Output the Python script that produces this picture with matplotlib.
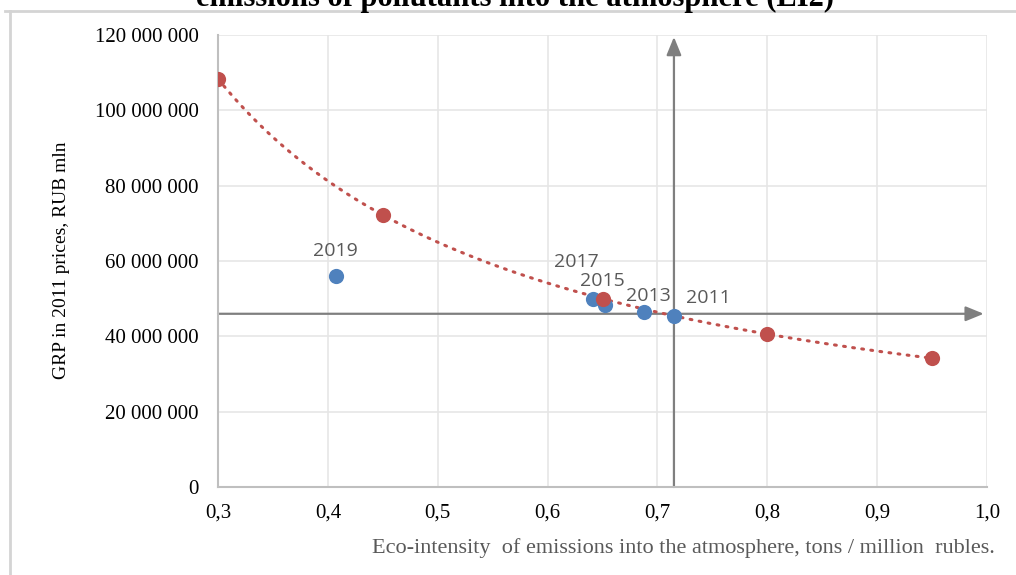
"""GRP vs eco-intensity of atmospheric emissions (EI2) scatter with trend."""

import matplotlib

matplotlib.use("Agg")
import matplotlib.pyplot as plt
import numpy as np
from matplotlib.lines import Line2D
from matplotlib.ticker import FuncFormatter

# model points (red) on the trend curve
MODEL_X = [0.30, 0.45, 0.65, 0.80, 0.95]
MODEL_Y = [108.4e6, 72.2e6, 50.0e6, 40.6e6, 34.2e6]

# actual observations (blue)
YEARS = ["2019", "2017", "2015", "2013", "2011"]
OBS_X = [0.407, 0.641, 0.652, 0.688, 0.715]
OBS_Y = [56.1e6, 50.0e6, 48.2e6, 46.6e6, 45.5e6]

# 2011 reference lines (arrows)
REF_X = 0.715
REF_Y = 46.0e6

RED = "#C0504D"
BLUE = "#4F81BD"
ARROW = "#7F7F7F"
SERIF = ["Liberation Serif", "DejaVu Serif"]

fig = plt.figure(figsize=(10.16, 5.75), dpi=100)
ax = fig.add_axes([0.2146, 0.153, 0.7569, 0.786])

# power trend fitted to the model points
b, log_a = np.polyfit(np.log(MODEL_X), np.log(MODEL_Y), 1)
xs = np.linspace(min(MODEL_X), max(MODEL_X), 200)
ax.plot(xs, np.exp(log_a) * xs**b, color=RED, linewidth=2.2,
        linestyle=(0, (0.6, 2.4)), dash_capstyle="round", zorder=3)

ax.scatter(MODEL_X, MODEL_Y, s=120, color=RED, zorder=5, linewidths=0)
ax.scatter(OBS_X, OBS_Y, s=120, color=BLUE, zorder=4, linewidths=0)

label_offsets = {"2019": (0, 11), "2017": (-12, 20), "2015": (-2, 11),
                 "2013": (3, 5), "2011": (25, 6)}
for year, x, y in zip(YEARS, OBS_X, OBS_Y):
    dx, dy = label_offsets[year]
    ax.annotate(year, (x, y), xytext=(dx, dy), textcoords="offset points",
                ha="center", va="bottom", fontsize=14, color="#595959",
                family=["Open Sans", "DejaVu Sans"], zorder=6)

# arrows through the 2011 point
ax.annotate("", xy=(0.997, REF_Y), xytext=(0.3, REF_Y),
            arrowprops=dict(arrowstyle="-|>,head_length=1.1,head_width=0.45",
                            color=ARROW, linewidth=1.6, shrinkA=0, shrinkB=0),
            zorder=2)
ax.annotate("", xy=(REF_X, 119.5e6), xytext=(REF_X, 0),
            arrowprops=dict(arrowstyle="-|>,head_length=1.1,head_width=0.45",
                            color=ARROW, linewidth=1.6, shrinkA=0, shrinkB=0),
            zorder=2)

ax.set_xlim(0.3, 1.0)
ax.set_ylim(0, 120e6)
ax.set_xticks(np.arange(0.3, 1.01, 0.1))
ax.set_yticks(np.arange(0, 120.1e6, 20e6))
ax.xaxis.set_major_formatter(FuncFormatter(lambda v, _: f"{v:.1f}".replace(".", ",")))
ax.yaxis.set_major_formatter(FuncFormatter(lambda v, _: f"{v:,.0f}".replace(",", " ")))
ax.tick_params(length=0, labelsize=15, pad=14)
ax.tick_params(axis="x", pad=12)
for lab in ax.get_xticklabels() + ax.get_yticklabels():
    lab.set_family(SERIF)

ax.grid(True, color="#E6E6E6", linewidth=1.2)
ax.set_axisbelow(True)
for side in ("top", "right"):
    ax.spines[side].set_visible(False)
for side in ("left", "bottom"):
    ax.spines[side].set_color("#BFBFBF")
    ax.spines[side].set_linewidth(1.5)

fig.text(0.061, 0.548, "GRP in 2011 prices, RUB mln", rotation=90,
         ha="center", va="center", fontsize=14, family=SERIF)
fig.text(0.979, 0.047, "Eco-intensity  of emissions into the atmosphere, tons / million  rubles.",
         ha="right", va="center", fontsize=16, color="#595959", family=SERIF)

# title cut at the top edge, plus the page frame
fig.text(0.507, 1 - 6 / 575, "emissions of pollutants into the atmosphere (EI2)",
         ha="center", va="baseline", fontsize=22, fontweight="bold", family=SERIF)
fig.add_artist(Line2D([0.005, 1.0], [1 - 11 / 575, 1 - 11 / 575],
                      color="#D4D4D4", linewidth=2, transform=fig.transFigure))
fig.add_artist(Line2D([10 / 1016, 10 / 1016], [0, 1 - 11 / 575],
                      color="#D4D4D4", linewidth=2, transform=fig.transFigure))

fig.savefig("out.png", dpi=100)
